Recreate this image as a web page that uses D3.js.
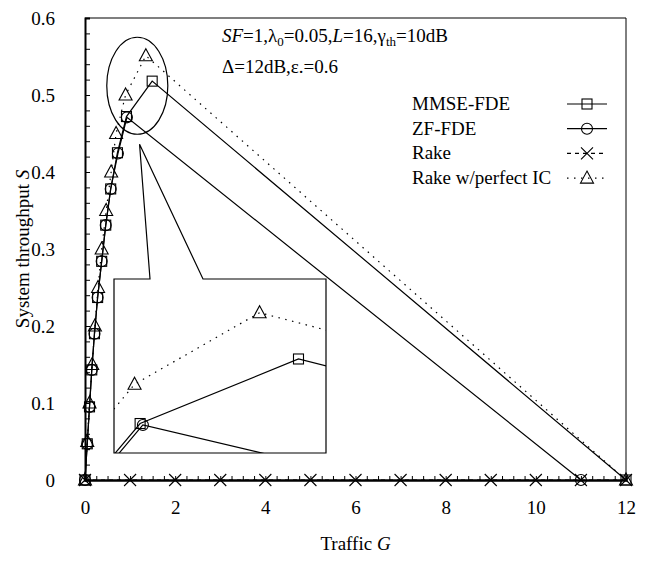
<!DOCTYPE html>
<html>
<head>
<meta charset="utf-8">
<script src="https://cdn.jsdelivr.net/npm/d3@7"></script>
<style>
  body { margin: 0; background: #fff; }
  svg text { font-family: "Liberation Serif", "Times New Roman", serif; fill: #000; }
</style>
</head>
<body>
<svg id="chart" width="652" height="562"></svg>
<script>
// series values
const mmseG = [0, 0.05, 0.1, 0.15, 0.21, 0.28, 0.37, 0.46, 0.57, 0.72, 0.92, 1.49, 12]
const mmseS = [0, 0.047, 0.095, 0.143, 0.19, 0.237, 0.284, 0.331, 0.378, 0.425, 0.472, 0.518, 0]
const zfG = [0, 0.05, 0.1, 0.15, 0.21, 0.28, 0.37, 0.46, 0.57, 0.73, 0.93, 11]
const zfS = [0, 0.047, 0.095, 0.143, 0.19, 0.237, 0.284, 0.331, 0.378, 0.424, 0.471, 0]
const rakeG = [0, 1, 2, 3, 4, 5, 6, 7, 8, 9, 10, 11, 12]
const rakeS = [0, 0, 0, 0, 0, 0, 0, 0, 0, 0, 0, 0, 0]
const icG = [0, 0.05, 0.1, 0.16, 0.22, 0.29, 0.37, 0.47, 0.58, 0.69, 0.9, 1.35, 12]
const icS = [0, 0.05, 0.1, 0.15, 0.2, 0.25, 0.3, 0.35, 0.4, 0.45, 0.5, 0.551, 0]

const seriesNames = ['MMSE-FDE', 'ZF-FDE', 'Rake', 'Rake w/perfect IC']
const xTicks = [0, 2, 4, 6, 8, 10, 12]
const yTicks = [0, 0.1, 0.2, 0.3, 0.4, 0.5, 0.6]

// zoomed window shown in the inset (data units)
const zoomG = [0.826, 1.589]
const zoomS = [0.451, 0.575]

const series = [
  { name: seriesNames[0], g: mmseG, s: mmseS, mark: 'square', dash: null },
  { name: seriesNames[1], g: zfG, s: zfS, mark: 'circle', dash: null },
  { name: seriesNames[2], g: rakeG, s: rakeS, mark: 'cross', dash: '4,4' },
  { name: seriesNames[3], g: icG, s: icS, mark: 'triangle', dash: '1.5,5.5' }
]

const svg = d3.select('#chart')
const margin = { top: 18, right: 26, bottom: 82, left: 85 }
const width = 652, height = 562
const fs = 19
const x = d3.scaleLinear().domain([0, 12]).range([margin.left, width - margin.right])
const y = d3.scaleLinear().domain([0, 0.6]).range([height - margin.bottom, margin.top])

function drawMarker(g, type, cx, cy) {
  const p = d3.path()
  if (type === 'square') {
    g.append('rect').attr('x', cx - 5).attr('y', cy - 5).attr('width', 10).attr('height', 10)
      .attr('fill', 'none').attr('stroke', '#000').attr('stroke-width', 1.1)
    return
  }
  if (type === 'circle') {
    g.append('circle').attr('cx', cx).attr('cy', cy).attr('r', 5.5)
      .attr('fill', 'none').attr('stroke', '#000').attr('stroke-width', 1.1)
    return
  }
  if (type === 'cross') {
    p.moveTo(cx - 6, cy - 6); p.lineTo(cx + 6, cy + 6)
    p.moveTo(cx + 6, cy - 6); p.lineTo(cx - 6, cy + 6)
  } else {
    p.moveTo(cx, cy - 7); p.lineTo(cx + 6.5, cy + 5); p.lineTo(cx - 6.5, cy + 5); p.closePath()
  }
  g.append('path').attr('d', p.toString()).attr('fill', 'none').attr('stroke', '#000').attr('stroke-width', 1.1)
}

function drawSeries(g, sx, sy) {
  for (const d of series) {
    const pts = d.g.map((v, i) => [v, d.s[i]])
    g.append('path')
      .attr('d', d3.line().x(p => sx(p[0])).y(p => sy(p[1]))(pts))
      .attr('fill', 'none').attr('stroke', '#000').attr('stroke-width', 1.2)
      .attr('stroke-dasharray', d.dash)
    for (const p of pts) drawMarker(g, d.mark, sx(p[0]), sy(p[1]))
  }
}

// frame
svg.append('line').attr('x1', x(0)).attr('x2', x(12)).attr('y1', y(0.6)).attr('y2', y(0.6))
  .attr('stroke', '#7f7f7f').attr('stroke-width', 2)
svg.append('line').attr('x1', x(12)).attr('x2', x(12)).attr('y1', y(0.6)).attr('y2', y(0))
  .attr('stroke', '#000').attr('stroke-width', 1)

// y axis: minor ticks every 0.02, labels every 0.1
svg.append('g').attr('transform', `translate(${margin.left},0)`)
  .call(d3.axisLeft(y).tickValues(d3.range(0, 0.6001, 0.02)).tickSize(-5).tickFormat(''))
  .call(a => a.select('.domain').attr('stroke-width', 2))
const yLab = svg.append('g').attr('transform', `translate(${margin.left},0)`)
  .call(d3.axisLeft(y).tickValues(yTicks).tickSize(0).tickPadding(30).tickFormat(d => d === 0 ? '0' : d3.format('.1f')(d)))
yLab.select('.domain').remove()
yLab.selectAll('text').attr('font-size', fs).attr('font-family', 'Liberation Serif')

// x axis: minor ticks every 0.25, labels every 2
const xAxisY = y(0)
svg.append('g').attr('transform', `translate(0,${xAxisY})`)
  .call(d3.axisBottom(x).tickValues(d3.range(0, 12.001, 0.25)).tickSize(-4).tickFormat(''))
  .call(a => a.select('.domain').attr('stroke-width', 2.5))
const xLab = svg.append('g').attr('transform', `translate(0,${xAxisY})`)
  .call(d3.axisBottom(x).tickValues(xTicks).tickSize(0).tickPadding(21))
xLab.select('.domain').remove()
xLab.selectAll('text').attr('font-size', fs).attr('font-family', 'Liberation Serif')

// axis titles
const xt = svg.append('text').attr('x', (x(0) + x(12)) / 2).attr('y', 550)
  .attr('text-anchor', 'middle').attr('font-size', fs)
xt.append('tspan').text('Traffic ')
xt.append('tspan').attr('font-style', 'italic').text('G')

const yt = svg.append('text').attr('transform', `translate(29,${(y(0) + y(0.6)) / 2}) rotate(-90)`)
  .attr('text-anchor', 'middle').attr('font-size', fs)
yt.append('tspan').text('System throughput ')
yt.append('tspan').attr('font-style', 'italic').text('S')

// main curves
drawSeries(svg.append('g'), x, y)

// annotation text
const a1 = svg.append('text').attr('x', 222).attr('y', 42).attr('font-size', fs)
a1.append('tspan').attr('font-style', 'italic').text('SF')
a1.append('tspan').text('=1,λ')
a1.append('tspan').attr('font-size', 13).attr('dy', 4).text('0')
a1.append('tspan').attr('dy', -4).text('=0.05,')
a1.append('tspan').attr('font-style', 'italic').text('L')
a1.append('tspan').text('=16,γ')
a1.append('tspan').attr('font-size', 13).attr('dy', 4).text('th')
a1.append('tspan').attr('dy', -4).text('=10dB')
svg.append('text').attr('x', 222).attr('y', 73).attr('font-size', fs).text('Δ=12dB,ε.=0.6')

// legend
const leg = svg.append('g')
series.forEach((d, i) => {
  const ly = 104 + i * 24.7
  leg.append('text').attr('x', 412).attr('y', ly + 6).attr('font-size', fs).text(d.name)
  leg.append('line').attr('x1', 567).attr('x2', 607).attr('y1', ly).attr('y2', ly)
    .attr('stroke', '#000').attr('stroke-width', 1.2).attr('stroke-dasharray', d.dash)
  drawMarker(leg, d.mark, 587, ly)
})

// ellipse around the peak and callout tail
svg.append('ellipse').attr('cx', x(1.16)).attr('cy', y(0.512))
  .attr('rx', x(1.16) - x(0.483)).attr('ry', y(0.449) - y(0.512))
  .attr('fill', 'none').attr('stroke', '#000').attr('stroke-width', 1.2)

const inset = { left: 114, top: 279, right: 326, bottom: 453 }
const tip = [x(1.21), y(0.436)]
svg.append('path')
  .attr('d', `M${inset.left},${inset.top}H150L${tip[0]},${tip[1]}L203,${inset.top}H${inset.right}V${inset.bottom}H${inset.left}Z`)
  .attr('fill', '#fff').attr('stroke', '#000').attr('stroke-width', 1.2)

// inset: zoom of the peak region
const xi = d3.scaleLinear().domain(zoomG).range([inset.left, inset.right])
const yi = d3.scaleLinear().domain(zoomS).range([inset.bottom, inset.top])
svg.append('clipPath').attr('id', 'insetClip').append('rect')
  .attr('x', inset.left).attr('y', inset.top).attr('width', inset.right - inset.left).attr('height', inset.bottom - inset.top)
drawSeries(svg.append('g').attr('clip-path', 'url(#insetClip)'), xi, yi)
</script>
</body>
</html>
